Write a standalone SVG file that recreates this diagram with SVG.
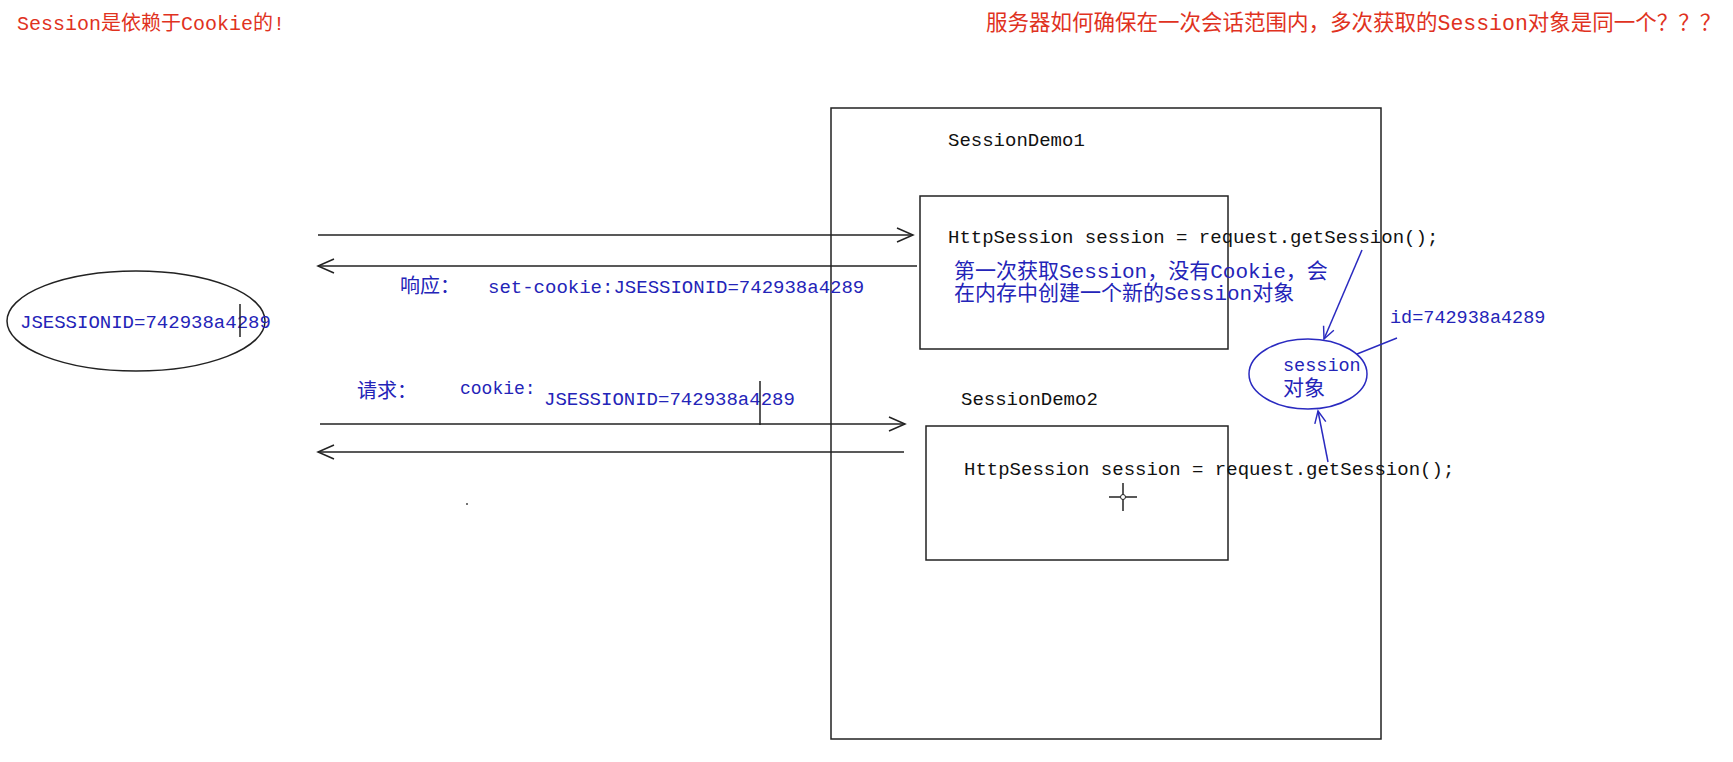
<svg xmlns="http://www.w3.org/2000/svg" width="1733" height="762" viewBox="0 0 1733 762">
<style>
.t{font-family:"Liberation Mono","Noto Sans CJK SC",monospace}
.red{fill:#e0321e;font-size:20px}
.blk{fill:#111;font-size:19px}
.blue{fill:#2424b8;font-size:19px}
.cn{fill:#2424b8;font-size:21px}
.box{fill:none;stroke:#222;stroke-width:1.5}
.ln{fill:none;stroke:#222;stroke-width:1.5}
.bl{fill:none;stroke:#2a2ac0;stroke-width:1.5}
</style>
<defs>
<marker id="ah" viewBox="0 0 20 20" refX="18" refY="10" markerWidth="20" markerHeight="20" markerUnits="userSpaceOnUse" orient="auto">
<path d="M2,3 L18,10 L2,17" fill="none" stroke="#222" stroke-width="1.5"/>
</marker>
<marker id="ahb" viewBox="0 0 20 20" refX="18" refY="10" markerWidth="16" markerHeight="16" markerUnits="userSpaceOnUse" orient="auto">
<path d="M3,3 L18,10 L3,17" fill="none" stroke="#2a2ac0" stroke-width="1.8"/>
</marker>
</defs>
<rect width="1733" height="762" fill="#fff"/>
<text class="t red" x="17" y="30">Session是依赖于Cookie的!</text>
<text class="t red" x="986" y="30" style="font-size:21.5px">服务器如何确保在一次会话范围内，多次获取的Session对象是同一个？？？</text>

<g id="server">
<rect class="box" x="831" y="108" width="550" height="631"/>
</g>
<g id="demo1">
<text class="t blk" x="948" y="146">SessionDemo1</text>
<rect class="box" x="920" y="196" width="308" height="153"/>
<text class="t blk" x="948" y="243">HttpSession session = request.getSession();</text>
<text class="t cn" x="954" y="278">第一次获取Session，没有Cookie，会</text>
<text class="t cn" x="954" y="300">在内存中创建一个新的Session对象</text>
</g>
<g id="demo2">
<text class="t blk" x="961" y="405">SessionDemo2</text>
<rect class="box" x="926" y="426" width="302" height="134"/>
<text class="t blk" x="964" y="475">HttpSession session = request.getSession();</text>
</g>
<g id="browser">
<ellipse class="ln" cx="136" cy="321" rx="129" ry="50"/>
<text class="t blue" x="20" y="328">JSESSIONID=742938a4289</text>
<line class="ln" x1="240" y1="304" x2="240" y2="337"/>
</g>
<g id="sessionobj">
<ellipse class="bl" cx="1308" cy="374" rx="59" ry="35"/>
<text class="t blue" x="1283" y="371" style="font-size:18.5px">session</text>
<text class="t cn" x="1283" y="395" style="font-size:21px">对象</text>
<text class="t blue" x="1390" y="323" style="font-size:18.5px">id=742938a4289</text>
</g>
<g id="connectors">
<line class="ln" x1="318" y1="235" x2="913" y2="235" marker-end="url(#ah)"/>
<line class="ln" x1="917" y1="266" x2="318" y2="266" marker-end="url(#ah)"/>
<line class="ln" x1="320" y1="424" x2="905" y2="424" marker-end="url(#ah)"/>
<line class="ln" x1="904" y1="452" x2="318" y2="452" marker-end="url(#ah)"/>
<line class="bl" x1="1362" y1="250" x2="1324" y2="339" marker-end="url(#ahb)"/>
<line class="bl" x1="1328" y1="462" x2="1318" y2="411" marker-end="url(#ahb)"/>
<line class="bl" x1="1397" y1="338" x2="1357" y2="354"/>
</g>
<g id="labels">
<text class="t cn" x="400" y="293" style="font-size:20px">响应：</text>
<text class="t blue" x="488" y="293">set-cookie:JSESSIONID=742938a4289</text>
<text class="t cn" x="357" y="398" style="font-size:20px">请求：</text>
<text class="t blue" x="460" y="394" style="font-size:18px">cookie:</text>
<text class="t blue" x="544" y="405">JSESSIONID=742938a4289</text>
<line class="ln" x1="760" y1="381" x2="760" y2="425"/>
</g>
<g id="cursor">
<line class="ln" x1="1109" y1="497" x2="1137" y2="497"/>
<line class="ln" x1="1123" y1="483" x2="1123" y2="511"/>
<circle cx="1123" cy="497" r="2.5" fill="#fff" stroke="#222" stroke-width="1"/>
<circle cx="467" cy="504" r="1" fill="#444"/>
</g>
</svg>
